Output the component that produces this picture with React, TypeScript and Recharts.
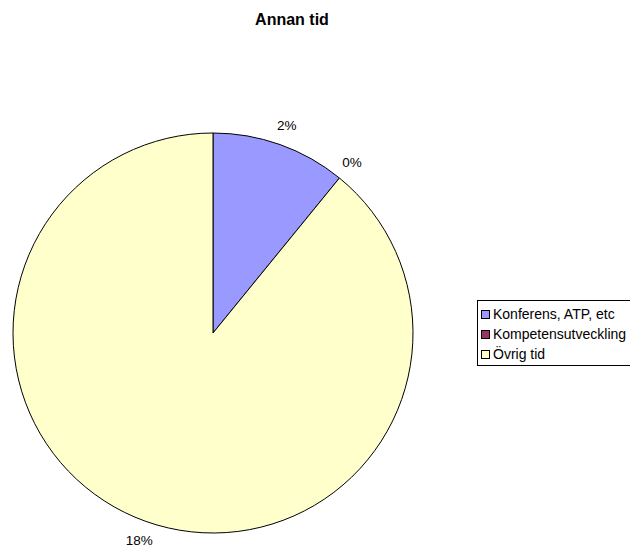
import React from 'react';
import { PieChart, Pie, Cell } from 'recharts';

const categories = ['Konferens, ATP, etc', 'Kompetensutveckling', 'Övrig tid'];
const values = [2.2, 0, 18.0];
const colors = ['#9999FF', '#993366', '#FFFFCC'];

const data = categories.map((name, i) => ({ name, value: values[i] }));

const RAD = Math.PI / 180;
const FONT = "'Liberation Sans', Arial, sans-serif";

const renderLabel = (props: any) => {
  const { cx, cy, midAngle, outerRadius, value } = props;
  const r = outerRadius + 20;
  const x = cx + r * Math.cos(-midAngle * RAD);
  const y = cy + r * Math.sin(-midAngle * RAD);
  return (
    <text x={x} y={y} textAnchor="middle" dominantBaseline="central" fontSize={13.5} fill="#000" fontFamily={FONT}>
      {Math.round(value)}%
    </text>
  );
};

export default function App() {
  return (
    <div style={{ position: 'absolute', left: 0, top: 0, width: 630, height: 552, background: '#fff', fontFamily: FONT, overflow: 'hidden' }}>
      <div style={{ position: 'absolute', top: 10, left: 192, width: 200, textAlign: 'center', fontSize: 16, fontWeight: 'bold', lineHeight: '20px' }}>
        Annan tid
      </div>
      <PieChart width={630} height={552} margin={{ top: 0, right: 0, bottom: 0, left: 0 }}>
        <Pie
          data={data}
          dataKey="value"
          cx={213}
          cy={333}
          outerRadius={200}
          startAngle={90}
          endAngle={-270}
          stroke="#000"
          strokeWidth={1}
          label={renderLabel}
          labelLine={false}
          isAnimationActive={false}
        >
          {data.map((d, i) => (
            <Cell key={d.name} fill={colors[i]} />
          ))}
        </Pie>
      </PieChart>
      <div style={{ position: 'absolute', left: 477, top: 300, width: 170, height: 66, border: '1px solid #000', boxSizing: 'border-box', padding: '3px 0 0 3px', fontSize: 14 }}>
        {data.map((d, i) => (
          <div key={d.name} style={{ display: 'flex', alignItems: 'center', height: 20, whiteSpace: 'nowrap' }}>
            <span style={{ display: 'inline-block', width: 7, height: 7, background: colors[i], border: '1px solid #000', marginRight: 3 }} />
            {d.name}
          </div>
        ))}
      </div>
    </div>
  );
}
